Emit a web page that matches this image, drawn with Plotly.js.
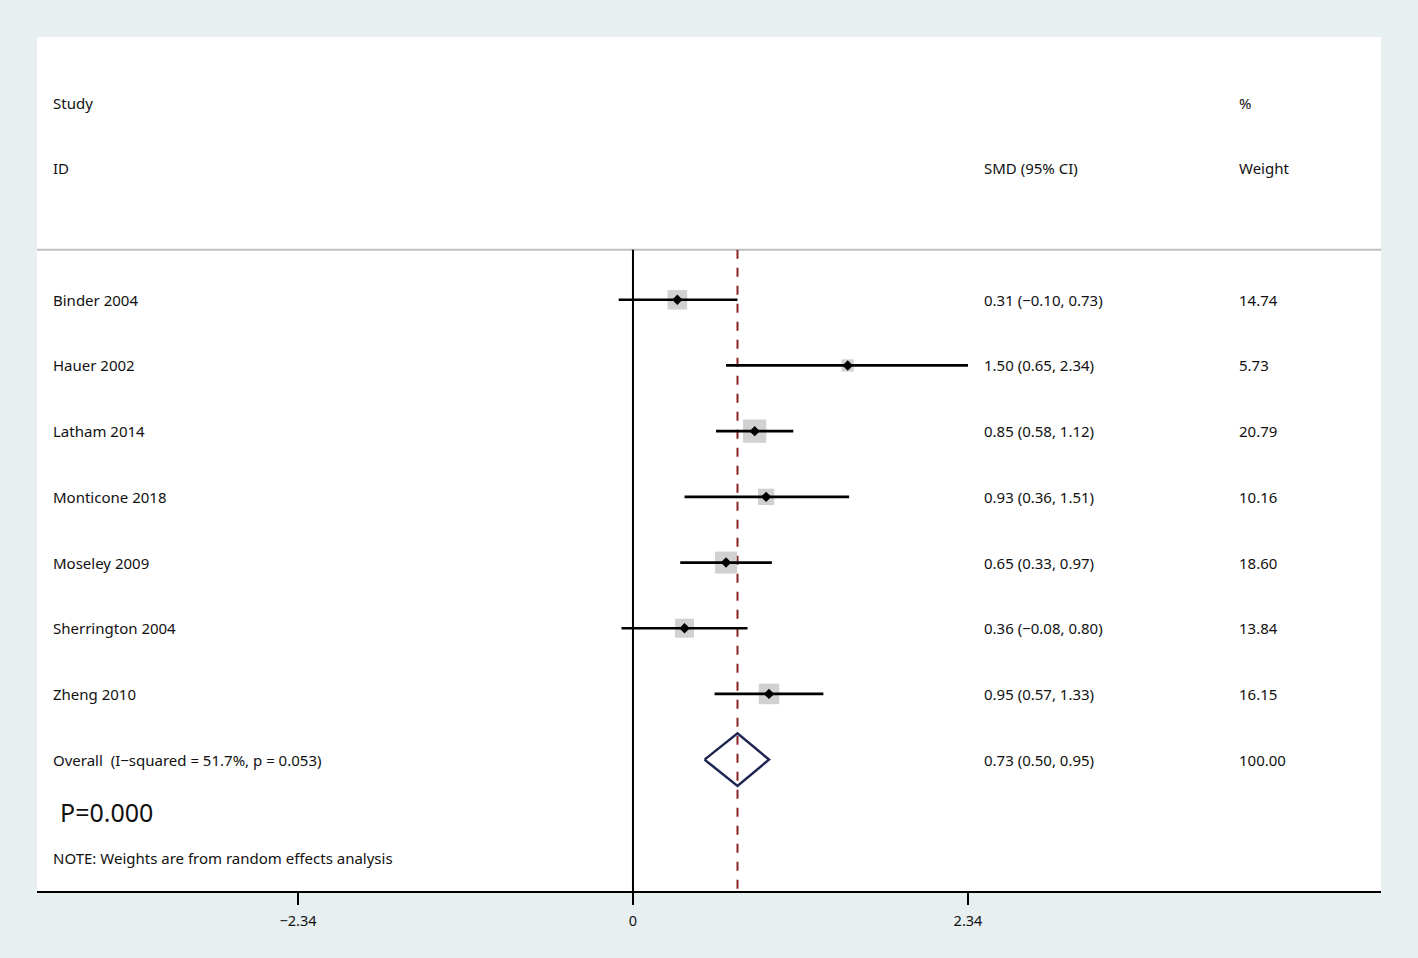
<!DOCTYPE html>
<html><head><meta charset="utf-8">
<script src="https://cdn.plot.ly/plotly-3.0.1.min.js"></script>
<style>html,body{margin:0;padding:0;background:#e7eff1;}</style>
</head><body>
<div id="chart" style="width:1418px;height:958px;"></div>
<script>
const studies = ["Binder 2004","Hauer 2002","Latham 2014","Monticone 2018","Moseley 2009","Sherrington 2004","Zheng 2010"];
const smd = [0.31, 1.50, 0.85, 0.93, 0.65, 0.36, 0.95];
const ciLow = [-0.10, 0.65, 0.58, 0.36, 0.33, -0.08, 0.57];
const ciHigh = [0.73, 2.34, 1.12, 1.51, 0.97, 0.80, 1.33];
const weights = [14.74, 5.73, 20.79, 10.16, 18.60, 13.84, 16.15];
const overall = {label: "Overall  (I\u2212squared = 51.7%, p = 0.053)", est: 0.73, lo: 0.50, hi: 0.95, weight: 100.00};
const tickVals = [-2.34, 0, 2.34];
const tickLabels = ["\u22122.34", "0", "2.34"];

const fmt = v => (v < 0 ? "\u2212" : "") + Math.abs(v).toFixed(2);
const rows = studies.map((s, i) => i + 1);
const overallRow = studies.length + 1;

const FONT = "'Noto Sans', 'Open Sans', sans-serif";
const traces = [];

// dashed overall line and zero line
traces.push({x:[overall.est, overall.est], y:[0.24, 10], mode:"lines", line:{color:"#8b2323", width:2, dash:"dash"}, hoverinfo:"skip", showlegend:false});
traces.push({x:[0, 0], y:[0.24, 10], mode:"lines", line:{color:"#000", width:2}, hoverinfo:"skip", showlegend:false});

// weight squares
traces.push({x:smd, y:rows, mode:"markers", marker:{symbol:"square", color:"#bdbdbd", size:weights.map(w => 5.1*Math.sqrt(w)), line:{width:0}}, hoverinfo:"skip", showlegend:false});

// CI lines
studies.forEach((s, i) => {
  traces.push({x:[ciLow[i], ciHigh[i]], y:[rows[i], rows[i]], mode:"lines", line:{color:"#000", width:2.7}, hoverinfo:"skip", showlegend:false});
});

// point estimates
traces.push({x:smd, y:rows, mode:"markers", marker:{symbol:"diamond", color:"#000", size:8}, hoverinfo:"skip", showlegend:false});

// overall diamond
const h = 0.4;
traces.push({x:[overall.lo, overall.est, overall.hi, overall.est, overall.lo], y:[overallRow, overallRow - h, overallRow, overallRow + h, overallRow], mode:"lines", line:{color:"#1f2652", width:2.5}, hoverinfo:"skip", showlegend:false});

const ann = [];
const colStudy = 0.0104, colSmd = 0.7031, colW = 0.8929;
const addText = (xp, y, text, size) => ann.push({xref:"paper", yref:"y", x:xp, y:y, text:text, showarrow:false, xanchor:"left", yanchor:"middle", font:{family:FONT, size:size || 15, color:"#111"}});

addText(colStudy, -2, "Study");
addText(colW, -2, "%");
addText(colStudy, -1, "ID");
addText(colSmd, -1, "SMD (95% CI)");
addText(colW, -1, "Weight");
studies.forEach((s, i) => {
  addText(colStudy, rows[i], s);
  addText(colSmd, rows[i], smd[i].toFixed(2) + " (" + fmt(ciLow[i]) + ", " + fmt(ciHigh[i]) + ")");
  addText(colW, rows[i], weights[i].toFixed(2));
});
addText(colStudy, overallRow, overall.label);
addText(colSmd, overallRow, overall.est.toFixed(2) + " (" + fmt(overall.lo) + ", " + fmt(overall.hi) + ")");
addText(colW, overallRow, overall.weight.toFixed(2));
addText(0.0155, 8.79, "P=0.000", 25);
addText(colStudy, 9.5, "NOTE: Weights are from random effects analysis");

const layout = {
  width:1418, height:958,
  margin:{l:37, r:37, t:37, b:67, pad:0},
  paper_bgcolor:"#e7eff1",
  plot_bgcolor:"#ffffff",
  showlegend:false,
  xaxis:{range:[-4.163, 5.225], tickvals:tickVals, ticktext:tickLabels, ticks:"outside", ticklen:12, tickwidth:2, tickcolor:"#000",
         showline:true, linecolor:"#000", linewidth:2, showgrid:false, zeroline:false, fixedrange:true,
         ticklabelstandoff:4,
         tickfont:{family:FONT, size:14.5, color:"#111"}},
  yaxis:{range:[10, -3], showticklabels:false, showgrid:false, zeroline:false, showline:false, ticks:"", fixedrange:true},
  shapes:[{type:"line", xref:"paper", yref:"y", x0:0, x1:1, y0:0.24, y1:0.24, line:{color:"#bfbfbf", width:2}, layer:"below"}],
  annotations:ann
};
Plotly.newPlot("chart", traces, layout, {displayModeBar:false, staticPlot:true});
</script>
</body></html>
